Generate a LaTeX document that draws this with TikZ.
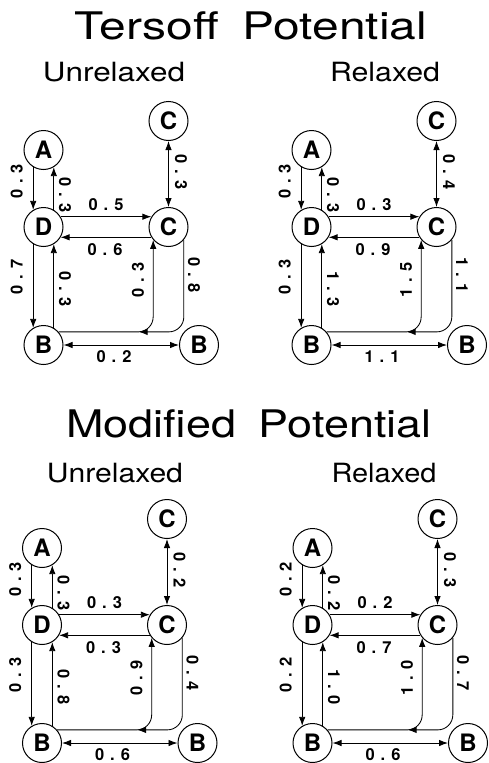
\documentclass[tikz,border=0pt]{standalone}
\usepackage{fontspec}
\setmainfont{TeX Gyre Heros}
\usetikzlibrary{arrows.meta,calc}
\tikzset{
 atom/.style={circle, draw, line width=1pt, minimum size=39pt, inner sep=0pt,
   font=\fontsize{24}{24}\selectfont\bfseries},
 arr/.style={line width=0.85pt, -{Latex[length=9pt,width=6.5pt]}},
 darr/.style={line width=0.85pt, {Latex[length=9pt,width=6.5pt]}-{Latex[length=9pt,width=6.5pt]}},
 lab/.style={font=\fontsize{16.5}{17}\selectfont\bfseries, inner sep=0pt},
 ttl/.style={font=\fontsize{38}{40}\selectfont, inner sep=0pt, anchor=base},
 sub/.style={font=\fontsize{26.5}{28}\selectfont, inner sep=0pt, anchor=base},
}
\newcommand\nm[2]{#1\hspace{6pt}.\hspace{6pt}#2}
\newcommand\panel[3]{%
\begin{scope}[shift={(#2,#3)}]
 \node[atom] (#1Ct) at (168.5,121) {C};
 \node[atom] (#1A) at (43.5,150) {A};
 \node[atom] (#1D) at (43.5,227) {D};
 \node[atom] (#1C) at (168.5,227) {C};
 \node[atom] (#1B) at (43.5,345) {B};
 \node[atom] (#1Bb) at (199,345) {B};
 \draw[arr] (#1A.-121) -- (#1D.121);
 \draw[arr] (#1D.59) -- (#1A.-59);
 \draw[darr] (#1Ct) -- (#1C);
 \draw[arr] (#1D.31) -- (#1C.149);
 \draw[arr] (#1C.-149) -- (#1D.-31);
 \draw[arr] (#1D.-121) -- (#1B.121);
 \draw[arr] (#1B.59) -- (#1D.-59);
 \draw[arr, rounded corners=15pt] (#1B.41) -| (#1C.-140);
 \path (#1B.41) ++(80,0) coordinate (#1e);
 \draw[arr, rounded corners=15pt] (#1C.-40) |- (#1e);
 \draw[darr] (#1B) -- (#1Bb);
\end{scope}}
\newcommand\labsa[8]{%
\begin{scope}[shift={(#2,#3)}]
 \node[lab, rotate=90] (#1la) at (16.7,181.5) {#4};
 \node[lab, rotate=-90] (#1lb) at (65,195) {#5};
 \node[lab, rotate=-90] (#1lc) at (181,172) {#6};
 \node[lab] (#1ld) at (106,205) {#7};
 \node[lab] (#1le) at (105,250) {#8};
\end{scope}}
\newcommand\labsb[8]{%
\begin{scope}[shift={(#2,#3)}]
 \node[lab, rotate=90] (#1lf) at (16.7,277) {#4};
 \node[lab, rotate=-90] (#1lg) at (65,289) {#5};
 \node[lab, rotate=90] (#1lh) at (138,280) {#6};
 \node[lab, rotate=-90] (#1li) at (194,275) {#7};
 \node[lab] (#1lj) at (114,357) {#8};
\end{scope}}
\begin{document}
\begin{tikzpicture}[x=1pt,y=-1pt]
\useasboundingbox (0,0) rectangle (488,763);
\node[ttl] (t1) at (251,39) {\resizebox{352pt}{\height}{Tersoff\hspace{0.5em}Potential}};
\node[sub] (s1) at (114,81) {\resizebox{142pt}{\height}{Unrelaxed}};
\node[sub] (s2) at (385,81) {\resizebox{110pt}{\height}{Relaxed}};
\node[ttl] (t2) at (249,437) {\resizebox{365pt}{\height}{Modified\hspace{0.5em}Potential}};
\node[sub] (s3) at (115,482) {\resizebox{136pt}{\height}{Unrelaxed}};
\node[sub] (s4) at (384,482) {\resizebox{105pt}{\height}{Relaxed}};

\panel{p}{0}{0}
\labsa{p}{0}{0}{\nm03}{\nm03}{\nm03}{\nm05}{\nm06}
\labsb{p}{0}{0}{\nm07}{\nm03}{\nm03}{\nm08}{\nm02}

\panel{q}{268}{0}
\labsa{q}{268}{0}{\nm03}{\nm03}{\nm04}{\nm03}{\nm09}
\labsb{q}{268}{0}{\nm03}{\nm13}{\nm15}{\nm11}{\nm11}

\panel{r}{-1.5}{398}
\labsa{r}{-1.5}{398}{\nm03}{\nm03}{\nm02}{\nm03}{\nm03}
\labsb{r}{-1.5}{398}{\nm03}{\nm08}{\nm09}{\nm04}{\nm06}

\panel{s}{269}{398}
\labsa{s}{269}{398}{\nm02}{\nm02}{\nm03}{\nm02}{\nm07}
\labsb{s}{269}{398}{\nm02}{\nm10}{\nm10}{\nm07}{\nm06}
\end{tikzpicture}
\end{document}
